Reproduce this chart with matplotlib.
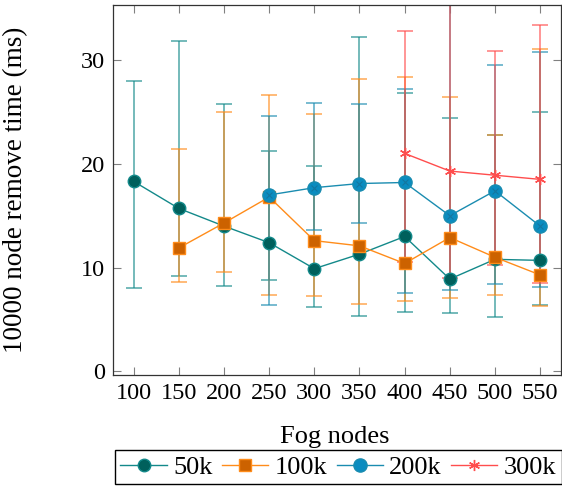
import numpy as np
import matplotlib
matplotlib.use("Agg")
import matplotlib.pyplot as plt

# fog node counts
nodes = [100, 150, 200, 250, 300, 350, 400, 450, 500, 550]

# mean remove time (ms) and min/max whiskers
n50k = [18.3, 15.7, 14.0, 12.4, 9.9, 11.3, 13.0, 8.9, 10.8, 10.7]
n50k_lo = [8.0, 9.2, 8.25, 8.8, 6.25, 5.3, 5.7, 5.6, 5.2, 6.4]
n50k_hi = [28.0, 31.8, 25.8, 21.2, 19.8, 32.2, 26.8, 24.4, 22.8, 25.0]

nodes_100k = [150, 200, 250, 300, 350, 400, 450, 500, 550]
n100k = [11.9, 14.3, 16.8, 12.6, 12.1, 10.4, 12.9, 11.0, 9.3]
n100k_lo = [8.6, 9.6, 7.35, 7.3, 6.5, 6.8, 7.05, 7.35, 6.35]
n100k_hi = [21.4, 25.0, 26.6, 24.8, 28.2, 28.4, 26.4, 22.8, 31.1]

nodes_200k = [250, 300, 350, 400, 450, 500, 550]
n200k = [17.0, 17.7, 18.1, 18.2, 15.0, 17.4, 14.0]
n200k_lo = [6.4, 13.6, 14.3, 7.6, 7.8, 8.4, 8.1]
n200k_hi = [24.6, 25.9, 25.8, 27.2, 38.0, 29.5, 30.8]

nodes_300k = [400, 450, 500, 550]
n300k = [21.0, 19.3, 18.9, 18.5]
n300k_lo = [10.5, 9.0, 10.3, 8.5]
n300k_hi = [32.8, 40.0, 30.9, 33.4]

serif = ['Liberation Serif', 'DejaVu Serif']
plt.rcParams['font.family'] = serif

fig = plt.figure(figsize=(5.62, 4.91), dpi=100)
ax = fig.add_axes([0.201, 0.236, 0.797, 0.754])

series = [
    ("50k", nodes, n50k, n50k_lo, n50k_hi, "#13898a", "#00605c", "o", 9),
    ("100k", nodes_100k, n100k, n100k_lo, n100k_hi, "#ff8c1a", "#cc6200", "s", 9),
    ("200k", nodes_200k, n200k, n200k_lo, n200k_hi, "#1a8cb0", "#0a8cc0", "o", 9.5),
    ("300k", nodes_300k, n300k, n300k_lo, n300k_hi, "#ff4d4d", "#ff4d4d", (6, 2, 0), 8),
]

for label, x, y, lo, hi, lc, fc, mk, ms in series:
    y = np.array(y)
    yerr = [y - np.array(lo), np.array(hi) - y]
    ax.errorbar(x, y, yerr=yerr, fmt="none", ecolor=lc, elinewidth=1.1,
                capsize=6, capthick=1.1, alpha=0.75, zorder=2)

for label, x, y, lo, hi, lc, fc, mk, ms in series:
    ax.plot(x, y, color=lc, lw=1.0, marker=mk, ms=ms, mfc=fc,
            mec=lc, mew=1.0, label=label, zorder=3)
    if label == "200k":
        ax.plot(x, y, ls="none", marker="x", ms=5, mec="#1477a0", mew=0.8,
                zorder=4)

ax.set_xlim(77, 573)
ax.set_ylim(-0.35, 35.3)
ax.set_xticks(nodes)
ax.set_yticks([0, 10, 20, 30])
ax.tick_params(direction="in", length=6, width=0.8, color="#808080",
               top=True, right=True, labelsize=17.5, pad=6)
for s in ax.spines.values():
    s.set_color("#333333")
    s.set_linewidth(0.9)

ax.set_ylabel("10000 node remove time (ms)", fontsize=19.5)
ax.yaxis.set_label_coords(-0.19, 0.5)
fig.text(0.596, 0.11, "Fog nodes", fontsize=19, ha="center", va="center")

fig.legend(loc="upper left", bbox_to_anchor=(0.205, 0.0835), ncol=4,
           prop={'family': serif, 'size': 19}, frameon=True, fancybox=False,
           edgecolor="black", handlelength=1.75, handletextpad=0.25,
           columnspacing=0.35, borderpad=0.2, borderaxespad=0, framealpha=1)

fig.savefig("out.png", dpi=100)
